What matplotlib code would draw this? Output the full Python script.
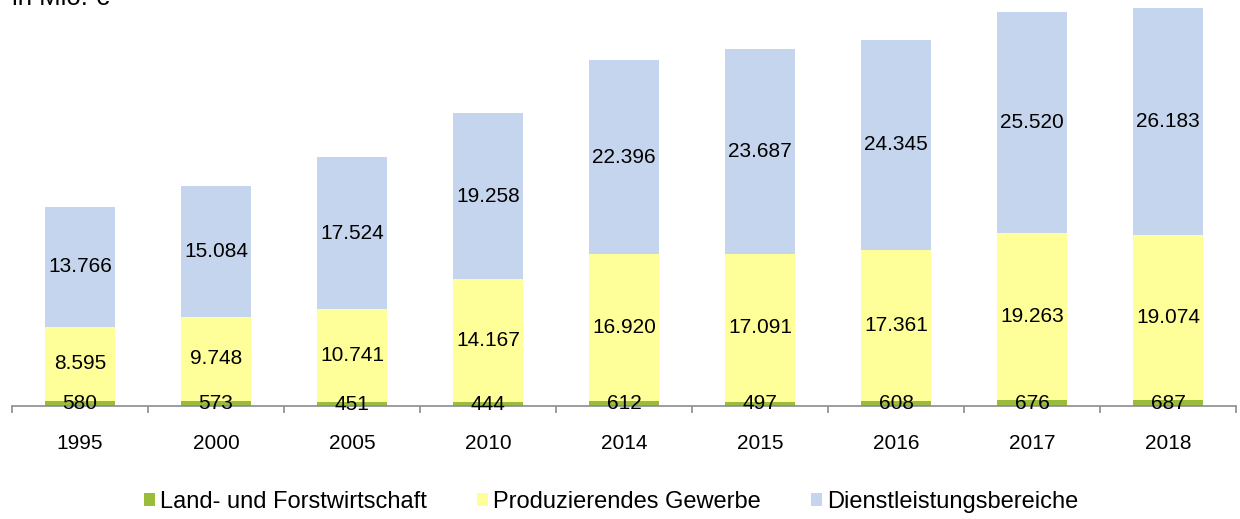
import matplotlib
matplotlib.use("Agg")
import matplotlib.pyplot as plt
import numpy as np

years = ["1995", "2000", "2005", "2010", "2014", "2015", "2016", "2017", "2018"]
land = [580, 573, 451, 444, 612, 497, 608, 676, 687]
prod = [8595, 9748, 10741, 14167, 16920, 17091, 17361, 19263, 19074]
dienst = [13766, 15084, 17524, 19258, 22396, 23687, 24345, 25520, 26183]
series_names = ["Land- und Forstwirtschaft", "Produzierendes Gewerbe", "Dienstleistungsbereiche"]

plt.rcParams['font.family'] = ['Liberation Sans', 'DejaVu Sans']

colors = ["#9BBB3B", "#FFFF99", "#C6D5EE"]

fig = plt.figure(figsize=(12.4, 5.19), dpi=100)
ax = fig.add_axes([12/1240, 1-406/519, (1236-12)/1240, 407/519])

x = np.arange(len(years))
w = 0.51
land_a = np.array(land)
prod_a = np.array(prod)
dienst_a = np.array(dienst)

def fmt(v):
    return f"{v:,}".replace(",", ".")

bottoms = np.zeros(len(years))
for vals, col, name in zip([land_a, prod_a, dienst_a], colors, series_names):
    ax.bar(x, vals, w, bottom=bottoms, color=col, label=name, linewidth=0)
    for xi, b, v in zip(x, bottoms, vals):
        ax.text(xi, b + v/2, fmt(v), ha='center', va='center', fontsize=15, color='black')
    bottoms = bottoms + vals

ax.set_xlim(-0.5, len(years)-0.5)
ax.set_ylim(0, 47000)
for s in ['top', 'right', 'left']:
    ax.spines[s].set_visible(False)
ax.spines['bottom'].set_color('#8C8C8C')
ax.spines['bottom'].set_linewidth(1.2)
ax.set_yticks([])
ax.set_xticks(x)
ax.set_xticklabels(years, fontsize=15)
ax.tick_params(axis='x', which='major', length=0, pad=20)
ax.set_xticks(np.arange(-0.5, len(years)), minor=True)
ax.tick_params(axis='x', which='minor', length=5, color='#8C8C8C', width=1.2)

fig.text(12/1240, 1-5/519, "in Mio. €", fontsize=18.5, ha='left', va='baseline')

fig.legend(loc='center', bbox_to_anchor=(611/1240, 1-502/519), ncol=3, frameon=False,
           fontsize=17, handlelength=0.5, handleheight=0.5, handletextpad=0.2,
           columnspacing=2.1, borderaxespad=0, borderpad=0)

fig.savefig("out.png", dpi=100)
